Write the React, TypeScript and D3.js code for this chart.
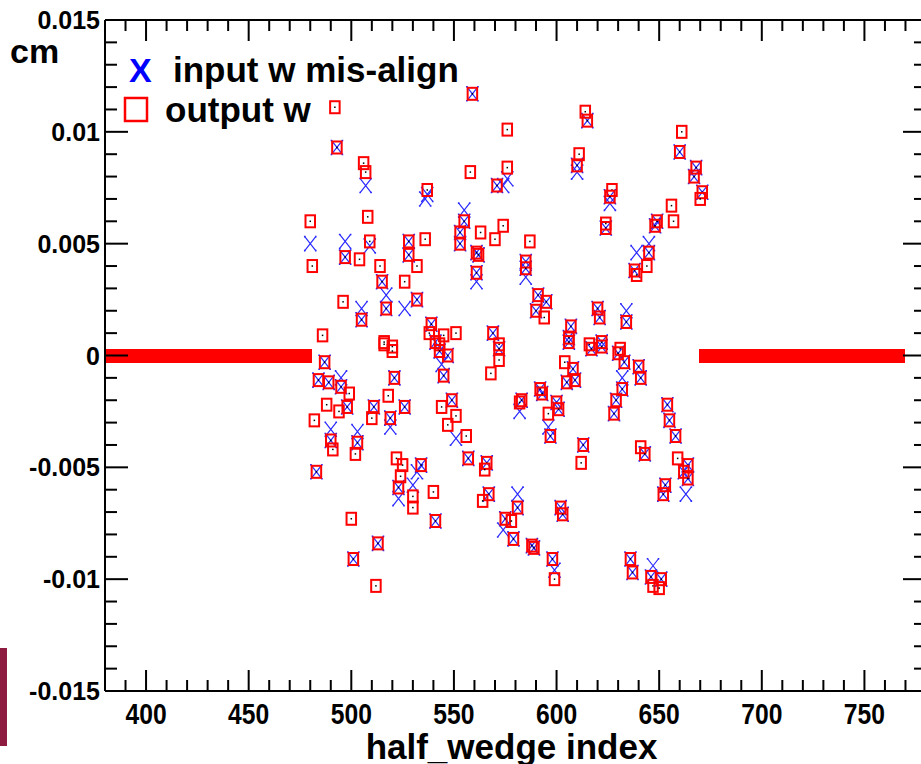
import React from "react";
import * as d3 from "d3";

// ---------- data ----------
const xDomain: [number, number] = [380, 780];
const yDomain: [number, number] = [-0.015, 0.015];
const xTickValues = [400, 450, 500, 550, 600, 650, 700, 750];
const xTickLabels = ["400", "450", "500", "550", "600", "650", "700", "750"];
const yTickValues = [-0.015, -0.01, -0.005, 0, 0.005, 0.01, 0.015];
const yTickLabels = ["-0.015", "-0.01", "-0.005", "0", "0.005", "0.01", "0.015"];
const xTitle = "half_wedge index";
const yTitle = "cm";
const legendInput = "input w mis-align";
const legendOutput = "output w";

// indices with zero misalignment (both series equal 0)
const zeroBandLeft: [number, number] = [380, 478];
const zeroBandRight: [number, number] = [672, 767];

// output w (red squares): [index, value]
const outputW: [number, number][] = [
  [492, 0.0111], [559, 0.0117], [493, 0.0093], [506, 0.0086], [507, 0.0082], [576, 0.0101],
  [558, 0.0082], [576, 0.0084], [571, 0.0076], [537, 0.0074], [480, 0.0060], [481, 0.0040],
  [508, 0.0062], [497, 0.0044], [504, 0.0043], [509, 0.0051], [514, 0.0040], [515, 0.0033],
  [517, 0.0021], [496, 0.0024], [505, 0.0016], [532, 0.0025], [526, 0.0033], [486, 0.0009],
  [516, 0.0006], [520, 0.0004], [539, 0.0014], [538, 0.0010], [545, 0.0009], [551, 0.0010],
  [569, 0.0010], [572, 0.0005], [541, 0.0006], [536, 0.0052], [528, 0.0051], [528, 0.0045],
  [532, 0.0040], [555, 0.0060], [553, 0.0055], [553, 0.0050], [563, 0.0055], [570, 0.0052],
  [574, 0.0058], [561, 0.0046], [562, 0.0045], [561, 0.0037],
  [614, 0.0109], [615, 0.0105], [661, 0.0100], [660, 0.0091], [611, 0.0090], [610, 0.0085],
  [668, 0.0084], [667, 0.0080], [671, 0.0073], [670, 0.0070], [627, 0.0074], [626, 0.0071],
  [624, 0.0057], [624, 0.0059], [656, 0.0067], [657, 0.0060], [649, 0.0060], [648, 0.0058],
  [587, 0.0051], [585, 0.0042], [585, 0.0039], [645, 0.0046], [644, 0.0040], [638, 0.0038],
  [639, 0.0036], [591, 0.0027], [595, 0.0024], [590, 0.0020], [594, 0.0017], [620, 0.0021],
  [621, 0.0017], [634, 0.0015], [607, 0.0013], [606, 0.0008], [616, 0.0005], [622, 0.0006],
  [631, 0.0003],
  [487, -0.0003], [484, -0.0011], [489, -0.0012], [495, -0.0014], [499, -0.0017], [488, -0.0022],
  [498, -0.0023], [494, -0.0025], [482, -0.0029], [521, -0.0010], [518, -0.0018], [526, -0.0023],
  [511, -0.0023], [510, -0.0028], [519, -0.0028], [490, -0.0038], [491, -0.0042], [503, -0.0039],
  [502, -0.0044], [483, -0.0052], [516, 0.0005], [520, 0.0002], [543, 0.0005], [543, 0.0002],
  [547, 0.0000], [545, -0.0009], [544, -0.0023], [549, -0.0020], [551, -0.0027], [547, -0.0031],
  [556, -0.0036], [572, 0.0003], [572, -0.0002], [568, -0.0008], [557, -0.0046], [522, -0.0046],
  [525, -0.0049], [534, -0.0049], [524, -0.0054], [523, -0.0059], [530, -0.0063], [530, -0.0068],
  [540, -0.0061], [541, -0.0074], [566, -0.0048], [565, -0.0051], [567, -0.0062], [564, -0.0065],
  [575, -0.0073], [500, -0.0073], [513, -0.0084], [501, -0.0091], [512, -0.0103],
  [606, 0.0006], [617, 0.0003], [622, 0.0004], [630, 0.0001], [633, -0.0003], [640, -0.0005],
  [641, -0.0010], [604, -0.0003], [608, -0.0006], [605, -0.0012], [609, -0.0011], [592, -0.0015],
  [593, -0.0017], [583, -0.0020], [582, -0.0021], [600, -0.0021], [601, -0.0024], [596, -0.0026],
  [632, -0.0015], [629, -0.0020], [628, -0.0026], [654, -0.0022], [655, -0.0029], [658, -0.0036],
  [597, -0.0036], [613, -0.0040], [612, -0.0048], [641, -0.0041], [643, -0.0044], [659, -0.0046],
  [664, -0.0049], [662, -0.0052], [664, -0.0055], [653, -0.0058], [652, -0.0062], [581, -0.0068],
  [578, -0.0074], [579, -0.0082], [602, -0.0068], [603, -0.0071], [588, -0.0085], [589, -0.0086],
  [598, -0.0091], [599, -0.0100], [636, -0.0091], [637, -0.0097], [646, -0.0099], [651, -0.0100],
  [647, -0.0103], [650, -0.0104],
];

// input w mis-align (blue X): [index, value]
const inputW: [number, number][] = [
  [559, 0.0117], [493, 0.0093], [571, 0.0076], [537, 0.0072], [497, 0.0044], [509, 0.0049],
  [515, 0.0033], [517, 0.0021], [505, 0.0016], [532, 0.0025], [539, 0.0014], [569, 0.0010],
  [541, 0.0006], [528, 0.0051], [528, 0.0045], [555, 0.0060], [553, 0.0055], [553, 0.0050],
  [561, 0.0046], [562, 0.0045], [561, 0.0037], [615, 0.0105], [660, 0.0091], [610, 0.0085],
  [668, 0.0084], [667, 0.0080], [671, 0.0073], [626, 0.0071], [624, 0.0057], [649, 0.0060],
  [648, 0.0058], [585, 0.0042], [585, 0.0039], [645, 0.0046], [638, 0.0038], [591, 0.0027],
  [595, 0.0024], [590, 0.0020], [620, 0.0021], [621, 0.0017], [634, 0.0015], [607, 0.0013],
  [606, 0.0008], [622, 0.0006], [487, -0.0003], [484, -0.0011], [489, -0.0012], [495, -0.0014],
  [498, -0.0023], [521, -0.0010], [526, -0.0023], [511, -0.0023], [519, -0.0028], [490, -0.0038],
  [503, -0.0039], [483, -0.0052], [543, 0.0002], [547, 0.0000], [545, -0.0009], [549, -0.0020],
  [572, 0.0003], [557, -0.0046], [534, -0.0049], [523, -0.0059], [541, -0.0074], [566, -0.0048],
  [567, -0.0062], [575, -0.0073], [513, -0.0084], [501, -0.0091], [606, 0.0006], [617, 0.0003],
  [622, 0.0004], [630, 0.0001], [633, -0.0003], [640, -0.0005], [641, -0.0010], [608, -0.0006],
  [605, -0.0012], [609, -0.0011], [592, -0.0015], [593, -0.0017], [583, -0.0020], [600, -0.0021],
  [601, -0.0024], [632, -0.0015], [629, -0.0020], [628, -0.0026], [654, -0.0022], [655, -0.0029],
  [658, -0.0036], [597, -0.0036], [613, -0.0040], [643, -0.0044], [664, -0.0049], [662, -0.0052],
  [664, -0.0055], [653, -0.0058], [652, -0.0062], [581, -0.0068], [579, -0.0082], [602, -0.0068],
  [603, -0.0071], [588, -0.0085], [589, -0.0086], [598, -0.0091], [636, -0.0091], [637, -0.0097],
  [646, -0.0099], [651, -0.0100],
  [507, 0.0076], [480, 0.0050], [497, 0.0051], [517, 0.0027], [576, 0.0079], [574, 0.0076],
  [536, 0.0070], [505, 0.0021], [526, 0.0021], [555, 0.0065], [561, 0.0033], [610, 0.0082],
  [626, 0.0068], [585, 0.0035], [645, 0.0050], [639, 0.0046], [634, 0.0020], [495, -0.0010],
  [519, -0.0032], [490, -0.0033], [503, -0.0034], [544, -0.0004], [551, -0.0037], [532, -0.0052],
  [523, -0.0064], [530, -0.0058], [574, -0.0078], [632, -0.0010], [582, -0.0025], [596, -0.0032],
  [663, -0.0062], [581, -0.0062], [599, -0.0096], [647, -0.0094],
];

// ---------- layout ----------
const W = 921;
const H = 764;
const FONT = "'Liberation Sans', Arial, Helvetica, sans-serif";
const RED = "#ff0000";
const BLUE = "#2a2aff";

const x = d3.scaleLinear().domain(xDomain).range([105, 926]);
const y = d3.scaleLinear().domain(yDomain).range([691, 20]);

const zeroBand = (r: [number, number]) => d3.range(r[0], r[1] + 1).map((i) => [i, 0] as [number, number]);
const bandPoints = [...zeroBand(zeroBandLeft), ...zeroBand(zeroBandRight)];

const xMinor = d3.range(xDomain[0], xDomain[1] + 0.001, 10);
const yMinor = d3.range(-15, 16).map((k) => k * 0.001);

const X_PATH = "M-5.5,-7L5.5,7M-5.5,7L5.5,-7";
const X_BAND = "M-5,-6L5,6M-5,6L5,-6";
const X_ENDS = "M-6.3,-7.8h1.6v1.6h-1.6zM4.7,-7.8h1.6v1.6h-1.6zM-6.3,6.2h1.6v1.6h-1.6zM4.7,6.2h1.6v1.6h-1.6z";

export default function App() {
  const left = x(xDomain[0]);
  const right = x(xDomain[1]);
  const top = y(yDomain[1]);
  const bottom = y(yDomain[0]);
  return (
    <svg
      width={W}
      height={H}
      viewBox={`0 0 ${W} ${H}`}
      style={{ position: "absolute", left: 0, top: 0, background: "#fff", overflow: "hidden" }}
      fontFamily={FONT}
    >
      <defs>
        <clipPath id="frame">
          <rect x={left + 1} y={top} width={right - left - 1} height={bottom - top} />
        </clipPath>
      </defs>
      <rect x={0} y={0} width={W} height={H} fill="#fff" />
      {/* slide logo fragment at left edge */}
      <rect x={0} y={648} width={7} height={98} fill="#8e1c40" />

      {/* markers */}
      <g clipPath="url(#frame)">
        {/* zero band: inputs then outputs */}
        <g shapeRendering="crispEdges">
          {bandPoints.map(([i, v], k) => (
            <path key={"bx" + k} d={X_BAND} transform={`translate(${x(i)},${y(v)})`} stroke={BLUE} strokeWidth={1.2} fill="none" />
          ))}
          {bandPoints.map(([i, v], k) => (
            <rect key={"bs" + k} x={x(i) - 4.75} y={y(v) - 6} width={9.5} height={12} stroke={RED} strokeWidth={2} fill="none" />
          ))}
        </g>
        {inputW.map(([i, v], k) => (
          <g key={"x" + k} transform={`translate(${x(i)},${y(v)})`}>
            <path d={X_PATH} stroke={BLUE} strokeWidth={1.2} fill="none" />
            <path d={X_ENDS} fill={BLUE} />
          </g>
        ))}
        {outputW.map(([i, v], k) => (
          <g key={"s" + k} transform={`translate(${x(i)},${y(v)})`}>
            <rect x={-4.75} y={-6} width={9.5} height={12} stroke={RED} strokeWidth={2} fill="none" />
            <rect x={-0.75} y={-0.75} width={1.5} height={1.5} fill="#000" />
          </g>
        ))}
      </g>

      {/* frame */}
      <g stroke="#000" strokeWidth={2} fill="none">
        <line x1={left} x2={right} y1={top} y2={top} />
        <line x1={left} x2={right} y1={bottom} y2={bottom} />
        <line x1={left} x2={left} y1={top} y2={bottom} />
        <line x1={right} x2={right} y1={top} y2={bottom} />
      </g>

      {/* ticks */}
      <g stroke="#000" strokeWidth={2}>
        {xMinor.map((t) => {
          const major = t % 50 === 0;
          const len = major ? 21 : 11;
          return (
            <g key={"xt" + t}>
              <line x1={x(t)} x2={x(t)} y1={bottom} y2={bottom - len} />
              <line x1={x(t)} x2={x(t)} y1={top} y2={top + len} />
            </g>
          );
        })}
        {yMinor.map((t, k) => {
          const major = k % 5 === 0;
          const len = major ? 23 : 12;
          return (
            <g key={"yt" + k}>
              <line x1={left} x2={left + len} y1={y(t)} y2={y(t)} />
              <line x1={right} x2={right - len} y1={y(t)} y2={y(t)} />
            </g>
          );
        })}
      </g>

      {/* tick labels */}
      <g fontWeight="bold" fill="#000">
        {yTickValues.map((t, k) => (
          <text key={"yl" + k} x={100} y={y(t) + 9} textAnchor="end" fontSize={25}>
            {yTickLabels[k]}
          </text>
        ))}
        {xTickValues.map((t, k) => (
          <text key={"xl" + k} transform={`translate(${x(t)},724) scale(0.85,1)`} textAnchor="middle" fontSize={29}>
            {xTickLabels[k]}
          </text>
        ))}
        <text x={511.5} y={759} textAnchor="middle" fontSize={35}>
          {xTitle}
        </text>
        <text x={10} y={63} fontSize={34}>
          {yTitle}
        </text>
      </g>

      {/* legend */}
      <g fontWeight="bold">
        <text x={129} y={82} fontSize={34} fill="#0000ff">X</text>
        <text x={173} y={82} fontSize={35} fill="#000">{legendInput}</text>
        <rect x={125} y={98} width={22} height={23} stroke={RED} strokeWidth={2.5} fill="none" />
        <text x={165} y={122} fontSize={35} fill="#000">{legendOutput}</text>
      </g>
    </svg>
  );
}
